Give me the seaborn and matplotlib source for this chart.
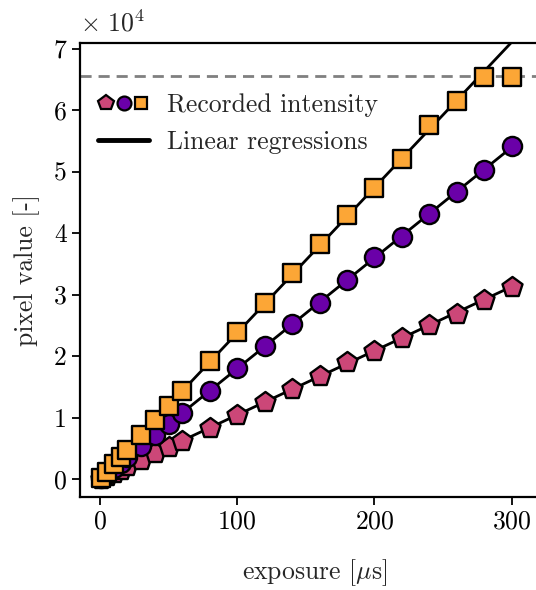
import numpy as np
import pandas as pd
import seaborn as sns
import matplotlib
matplotlib.use("Agg")
import matplotlib.pyplot as plt
from matplotlib.lines import Line2D
from matplotlib.legend_handler import HandlerTuple

# ---- data ----
exposure = [1, 5, 10, 15, 20, 30, 40, 50, 60, 80, 100, 120, 140, 160, 180, 200,
            220, 240, 260, 280, 300]
pink = [100, 520, 1040, 1560, 2090, 3130, 4180, 5220, 6270, 8360, 10450, 12550,
        14630, 16700, 19100, 20900, 22900, 25000, 26900, 29200, 31300]
purple = [180, 900, 1800, 2700, 3600, 5400, 7100, 8900, 10700, 14400, 18000,
          21600, 25300, 28700, 32400, 36100, 39400, 43100, 46700, 50200, 54100]
orange = [240, 1200, 2400, 3550, 4750, 7150, 9550, 11900, 14400, 19200, 24000,
          28700, 33500, 38200, 42900, 47300, 52100, 57500, 61500, 65300, 65400]
saturation = 65535
series_names = ["pink", "purple", "orange"]
colors = {"pink": "#cc4778", "purple": "#6a00a8", "orange": "#fca636"}
markers = {"pink": "p", "purple": "o", "orange": "s"}

df = pd.DataFrame({
    "exposure": exposure * 3,
    "value": pink + purple + orange,
    "series": ["pink"] * len(exposure) + ["purple"] * len(exposure) + ["orange"] * len(exposure),
})

sns.set_theme(style="ticks")
plt.rcParams["font.family"] = ["cmr10", "DejaVu Serif"]
plt.rcParams["mathtext.fontset"] = "cm"
plt.rcParams["axes.formatter.use_mathtext"] = True
plt.rcParams["axes.unicode_minus"] = False

fs = 18.5
fig = plt.figure(figsize=(5.36, 5.90), dpi=100)
ax = fig.add_axes([80 / 536, 93 / 590, 470 / 536, 454 / 590])

# regressions (exclude saturated samples)
xfit = np.array([0, 300])
for name in series_names:
    sub = df[(df.series == name) & (df.value < saturation - 200)]
    k, b = np.polyfit(sub.exposure, sub.value, 1)
    ax.plot(xfit, k * xfit + b, color="black", lw=2, zorder=2)

ax.axhline(saturation, color="#808080", lw=2, ls=(0, (4, 2.5)), zorder=1)

sizes = {"pink": 230, "purple": 190, "orange": 165}
for name in series_names:
    sub = df[df.series == name]
    sns.scatterplot(data=sub, x="exposure", y="value", marker=markers[name],
                    color=colors[name], edgecolor="black", linewidth=1.7,
                    s=sizes[name], ax=ax, zorder=3, legend=False)

ax.set_xlim(-14.6, 328)
ax.set_ylim(-2900, 70900)
ax.set_xticks([0, 100, 200, 300])
ax.set_yticks(np.arange(0, 70001, 10000))
ax.set_yticklabels([str(v) for v in range(8)])
ax.text(0.0, 1.015, r"$\times\ 10^4$", transform=ax.transAxes, fontsize=fs,
        ha="left", va="bottom")
ax.tick_params(labelsize=fs, width=1.3, length=6, direction="out", colors="black")
for sp in ["left", "bottom", "top"]:
    ax.spines[sp].set_linewidth(1.6)
    ax.spines[sp].set_color("black")
ax.spines["right"].set_visible(False)
ax.set_xlabel(r"exposure [$\mu$s]", fontsize=fs, labelpad=17)
ax.set_ylabel("pixel value [-]", fontsize=fs, labelpad=10)

msz = {"pink": 11.5, "purple": 10, "orange": 9}
h_markers = tuple(Line2D([], [], ls="none", marker=markers[n], markersize=msz[n],
                         markerfacecolor=colors[n], markeredgecolor="black", markeredgewidth=1.6)
                  for n in series_names)
h_line = Line2D([], [], color="black", lw=3.5)
ax.legend([h_markers, h_line], ["Recorded intensity", "Linear regressions"],
          handler_map={tuple: HandlerTuple(ndivide=None, pad=0.05)},
          loc="upper left", bbox_to_anchor=(0.0, 0.93), frameon=False, fontsize=fs,
          handlelength=2.0, handletextpad=0.7, labelspacing=0.55, borderaxespad=0.3)

fig.savefig("out.png", dpi=100)
